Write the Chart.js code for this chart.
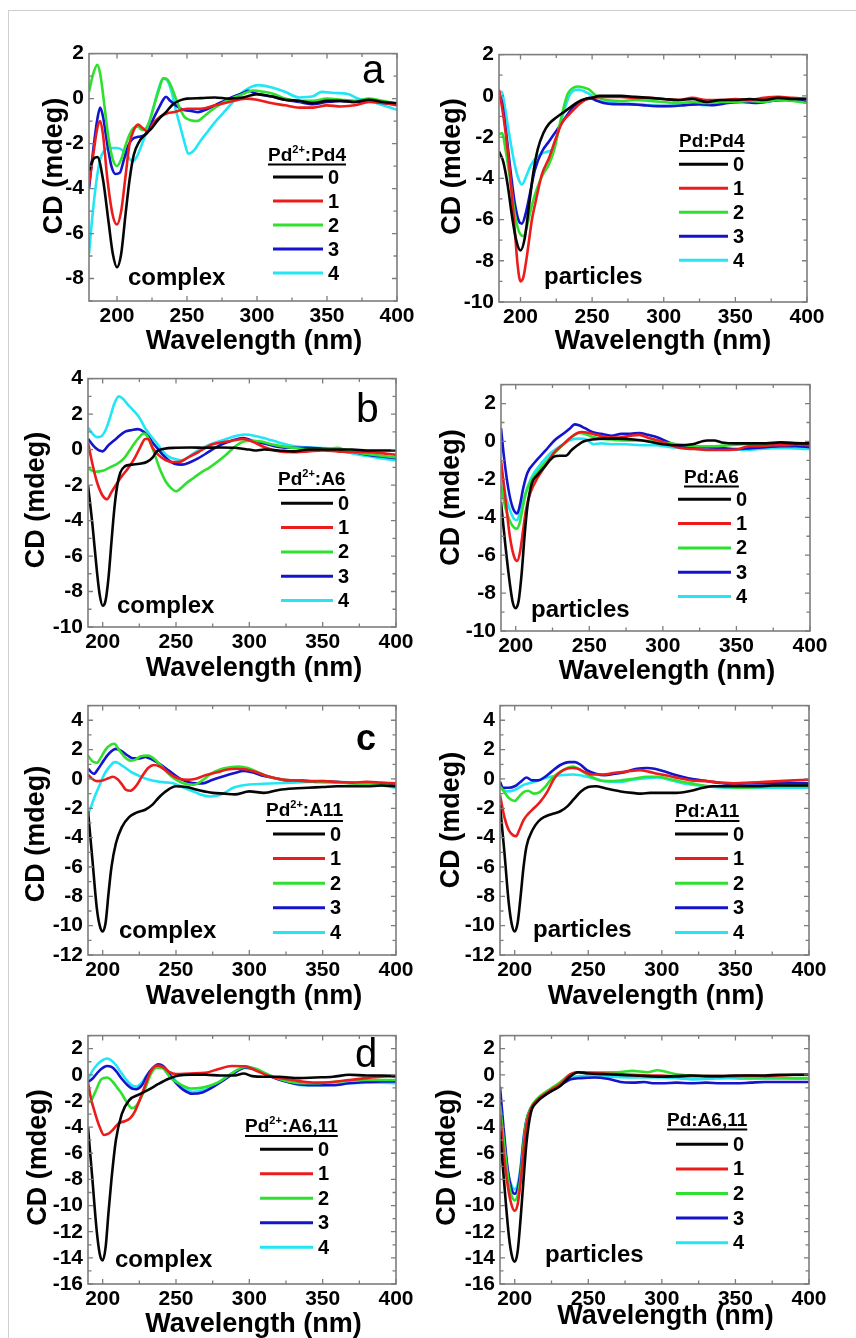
<!DOCTYPE html>
<html>
<head>
<meta charset="utf-8">
<title>CD spectra of Pd complexes and particles</title>
<script src="https://cdn.jsdelivr.net/npm/chart.js@4.4.1/dist/chart.umd.min.js"></script>
<style>
  html, body { margin: 0; padding: 0; background: #ffffff; }
  body { width: 856px; height: 1338px; position: relative; overflow: hidden; }
  .edge-top { position: absolute; left: 8px; top: 10px; width: 848px; height: 1px; background: #cfcfcf; }
  .edge-left { position: absolute; left: 8px; top: 10px; width: 1px; height: 1328px; background: #cfcfcf; }
  canvas { position: absolute; }
</style>
</head>
<body>
<div class="edge-top"></div>
<div class="edge-left"></div>
<script>
// ---------- series: [wavelength (nm), CD (mdeg)] ----------
// Panel a, Pd2+:Pd4 complex
const aComplex0 = [[180,-3.2],[183,-2.7],[186,-2.6],[190,-3.6],[194,-5.5],[197,-6.9],[200,-7.5],[203,-6.9],[206,-5.2],[209,-3.6],[212,-2.5],[216,-1.9],[220,-1.6],[225,-1.3],[230,-0.9],[235,-0.6],[240,-0.25],[245,-0.08],[250,0],[260,0.02],[270,0.05],[280,0],[290,0.05],[300,0.2],[310,0.1],[320,-0.05],[330,-0.1],[340,-0.2],[350,-0.1],[360,-0.1],[370,-0.15],[380,-0.05],[390,-0.15],[400,-0.2]];
const aComplex1 = [[180,-3.8],[183,-2.5],[186,-1.3],[188,-1.0],[190,-1.6],[193,-3.5],[197,-5.2],[200,-5.6],[203,-5.0],[206,-3.5],[209,-2.0],[212,-1.4],[215,-1.15],[218,-1.3],[222,-1.47],[226,-1.1],[231,-0.8],[236,-0.65],[241,-0.6],[250,-0.45],[260,-0.45],[270,-0.3],[280,-0.15],[292,0.0],[300,-0.05],[310,-0.2],[320,-0.3],[330,-0.4],[340,-0.4],[350,-0.3],[360,-0.35],[370,-0.3],[380,-0.15],[390,-0.2],[400,-0.3]];
const aComplex2 = [[180,0.3],[183,1.1],[186,1.5],[188,1.1],[191,-0.3],[194,-1.8],[197,-2.7],[200,-3.0],[203,-2.7],[206,-2.1],[209,-1.6],[212,-1.3],[215,-1.25],[218,-1.4],[221,-1.3],[224,-0.85],[227,-0.2],[230,0.4],[233,0.9],[236,0.85],[239,0.5],[242,0.0],[245,-0.45],[248,-0.8],[252,-0.95],[257,-1.0],[262,-0.8],[268,-0.5],[274,-0.25],[280,-0.05],[290,0.2],[297,0.36],[305,0.3],[312,0.2],[320,0.0],[330,-0.1],[340,-0.1],[350,0.0],[360,-0.05],[370,-0.1],[380,0.0],[390,-0.1],[400,-0.25]];
const aComplex3 = [[180,-4.0],[183,-2.3],[186,-0.9],[188,-0.4],[190,-0.8],[193,-2.0],[196,-3.0],[199,-3.35],[202,-3.3],[205,-2.7],[208,-2.1],[211,-1.8],[215,-1.7],[219,-1.65],[222,-1.5],[226,-0.9],[230,-0.4],[233,-0.05],[235,0.08],[238,-0.1],[242,-0.3],[247,-0.5],[253,-0.55],[258,-0.6],[265,-0.45],[270,-0.3],[280,0.0],[290,0.25],[294,0.35],[300,0.2],[310,0.1],[320,-0.05],[330,-0.15],[340,-0.25],[350,-0.15],[360,-0.1],[370,-0.15],[380,-0.1],[390,-0.2],[400,-0.25]];
const aComplex4 = [[180,-6.9],[182,-5.5],[185,-3.8],[188,-2.7],[191,-2.3],[195,-2.2],[200,-2.2],[204,-2.3],[208,-2.6],[211,-2.8],[214,-2.6],[218,-2.0],[222,-1.3],[226,-0.4],[230,0.5],[233,0.9],[236,0.8],[239,0.3],[242,-0.5],[245,-1.2],[248,-1.9],[251,-2.45],[255,-2.3],[260,-1.85],[265,-1.45],[270,-1.05],[275,-0.7],[280,-0.35],[285,0.0],[290,0.3],[295,0.5],[301,0.6],[310,0.5],[320,0.3],[330,0.05],[340,0.1],[346,0.3],[355,0.25],[365,0.2],[372,0.0],[380,-0.1],[390,-0.3],[400,-0.5]];

// Panel a, Pd:Pd4 particles
const aParticles0 = [[185,-2.7],[188,-3.2],[191,-4.3],[194,-5.8],[197,-7.0],[200,-7.5],[203,-6.9],[206,-5.3],[209,-3.7],[212,-2.6],[216,-1.8],[220,-1.35],[225,-1.05],[230,-0.8],[235,-0.55],[240,-0.3],[245,-0.15],[250,-0.1],[255,0.0],[260,0.0],[270,0.0],[280,-0.05],[290,-0.1],[300,-0.15],[310,-0.2],[320,-0.15],[330,-0.3],[340,-0.2],[350,-0.2],[360,-0.15],[370,-0.2],[380,-0.1],[390,-0.15],[400,-0.15]];
const aParticles1 = [[185,0.3],[187,-0.5],[190,-2.0],[193,-4.0],[196,-6.5],[198,-8.2],[200,-9.0],[202,-8.8],[204,-8.0],[206,-7.0],[208,-6.0],[211,-5.0],[215,-3.8],[220,-3.0],[225,-2.0],[229,-1.3],[234,-0.9],[238,-0.6],[242,-0.35],[245,-0.2],[250,-0.1],[260,-0.05],[270,-0.05],[280,-0.1],[290,-0.1],[300,-0.15],[310,-0.2],[320,-0.1],[330,-0.2],[340,-0.2],[350,-0.15],[360,-0.2],[370,-0.1],[380,-0.05],[390,-0.1],[400,-0.15]];
const aParticles2 = [[185,-1.9],[187,-1.8],[190,-2.8],[193,-4.2],[196,-5.7],[199,-6.6],[202,-6.8],[205,-6.2],[208,-5.3],[211,-4.6],[215,-3.9],[220,-3.3],[224,-2.5],[227,-1.5],[230,-0.6],[233,0.1],[236,0.35],[240,0.45],[244,0.4],[248,0.3],[252,0.05],[256,-0.15],[260,-0.2],[270,-0.25],[280,-0.2],[290,-0.25],[300,-0.3],[310,-0.35],[320,-0.3],[330,-0.35],[340,-0.3],[350,-0.3],[360,-0.25],[370,-0.3],[380,-0.2],[390,-0.25],[400,-0.35]];
const aParticles3 = [[185,0.15],[187,-0.3],[190,-1.8],[193,-3.6],[196,-5.2],[199,-6.1],[201,-6.2],[204,-5.6],[207,-4.6],[210,-3.6],[215,-2.7],[220,-2.2],[225,-1.7],[230,-1.2],[235,-0.7],[240,-0.4],[245,-0.2],[248,-0.1],[252,-0.2],[258,-0.35],[265,-0.4],[275,-0.4],[285,-0.45],[295,-0.5],[305,-0.5],[315,-0.45],[325,-0.4],[335,-0.45],[345,-0.35],[355,-0.3],[365,-0.35],[375,-0.25],[385,-0.2],[395,-0.25],[400,-0.3]];
const aParticles4 = [[185,0.15],[187,0.2],[189,-0.5],[192,-1.8],[195,-3.0],[198,-3.9],[201,-4.3],[204,-3.9],[207,-3.4],[211,-3.0],[215,-2.8],[219,-2.7],[222,-2.6],[225,-2.1],[228,-1.3],[231,-0.6],[234,0.0],[237,0.25],[241,0.3],[245,0.2],[249,0.05],[254,-0.25],[260,-0.3],[270,-0.4],[280,-0.4],[290,-0.45],[300,-0.5],[310,-0.45],[320,-0.4],[330,-0.45],[340,-0.35],[350,-0.3],[360,-0.3],[370,-0.3],[380,-0.2],[390,-0.2],[400,-0.3]];

// Panel b, Pd2+:A6 complex
const bComplex0 = [[190,-2.0],[193,-4.2],[196,-6.8],[198,-8.2],[200,-8.8],[202,-8.5],[204,-7.2],[206,-5.2],[208,-3.3],[210,-2.0],[212,-1.3],[215,-0.95],[220,-0.85],[225,-0.8],[230,-0.7],[234,-0.45],[237,-0.1],[242,0.05],[250,0.1],[260,0.12],[270,0.1],[280,0.12],[290,0.1],[300,0.0],[305,-0.05],[310,0.0],[320,-0.05],[330,-0.1],[340,0.0],[350,0.0],[360,0.0],[370,0.0],[380,-0.05],[390,-0.05],[400,-0.05]];
const bComplex1 = [[190,0.4],[193,-0.8],[196,-1.8],[200,-2.6],[203,-2.8],[206,-2.4],[209,-2.0],[213,-1.5],[217,-1.1],[222,-0.45],[226,0.2],[229,0.6],[231,0.6],[234,0.1],[238,-0.3],[242,-0.55],[247,-0.7],[252,-0.7],[258,-0.45],[265,-0.15],[275,0.3],[285,0.45],[296,0.6],[302,0.45],[310,0.15],[320,-0.1],[330,-0.15],[340,-0.1],[350,-0.05],[360,-0.1],[370,-0.15],[380,-0.15],[390,-0.2],[400,-0.3]];
const bComplex2 = [[190,-1.05],[195,-1.25],[200,-1.2],[205,-1.0],[210,-0.8],[215,-0.45],[220,0.15],[224,0.6],[228,0.9],[230,0.8],[233,0.3],[236,-0.4],[239,-1.1],[243,-1.8],[247,-2.2],[250,-2.35],[253,-2.2],[257,-1.9],[262,-1.6],[267,-1.3],[273,-1.0],[278,-0.7],[284,-0.3],[290,0.15],[296,0.45],[302,0.5],[308,0.45],[315,0.3],[325,0.15],[335,0.05],[345,0.0],[355,0.05],[360,0.1],[365,0.0],[372,-0.15],[380,-0.25],[390,-0.35],[400,-0.45]];
const bComplex3 = [[190,0.6],[195,0.1],[200,-0.1],[204,0.25],[209,0.6],[215,1.0],[220,1.1],[224,1.15],[228,1.0],[231,0.75],[234,0.4],[238,0.0],[241,-0.3],[245,-0.6],[249,-0.8],[254,-0.85],[260,-0.7],[265,-0.5],[270,-0.25],[280,0.25],[288,0.5],[296,0.65],[302,0.5],[310,0.35],[320,0.15],[330,0.1],[340,0.1],[350,0.05],[360,0.0],[368,-0.05],[375,-0.2],[385,-0.35],[392,-0.4],[400,-0.5]];
const bComplex4 = [[190,1.25],[193,0.9],[196,0.7],[199,0.75],[202,1.1],[205,1.8],[208,2.6],[211,3.0],[214,2.85],[217,2.55],[221,2.2],[225,1.8],[229,1.2],[233,0.75],[237,0.35],[241,-0.1],[245,-0.4],[250,-0.55],[254,-0.6],[258,-0.45],[263,-0.15],[268,0.1],[275,0.35],[283,0.55],[290,0.75],[297,0.85],[305,0.75],[312,0.6],[320,0.4],[330,0.2],[345,0.1],[358,0.05],[365,-0.1],[372,-0.25],[380,-0.35],[390,-0.5],[400,-0.6]];

// Panel b, Pd:A6 particles
const bParticles0 = [[190,-3.2],[193,-5.5],[196,-7.5],[198,-8.5],[200,-8.8],[202,-8.4],[204,-7.0],[206,-5.0],[208,-3.4],[211,-2.2],[215,-1.75],[220,-1.3],[226,-0.8],[230,-0.75],[234,-0.75],[238,-0.45],[242,-0.2],[246,0.0],[252,0.1],[260,0.15],[270,0.15],[280,0.1],[290,0.0],[300,-0.15],[310,-0.2],[320,-0.15],[330,0.05],[335,0.05],[340,-0.05],[350,-0.1],[360,-0.1],[370,-0.1],[380,-0.05],[390,-0.1],[400,-0.1]];
const bParticles1 = [[190,-1.0],[193,-3.0],[196,-5.0],[199,-6.1],[201,-6.3],[203,-5.8],[205,-4.7],[207,-3.6],[210,-2.7],[215,-1.9],[220,-1.3],[226,-0.6],[233,-0.1],[238,0.25],[242,0.45],[245,0.5],[250,0.45],[255,0.35],[260,0.25],[270,0.2],[278,0.3],[284,0.35],[290,0.2],[297,0.05],[304,-0.15],[312,-0.35],[322,-0.4],[332,-0.45],[342,-0.45],[352,-0.4],[358,-0.25],[365,-0.25],[375,-0.2],[385,-0.2],[392,-0.15],[400,-0.2]];
const bParticles2 = [[190,-2.3],[193,-3.5],[196,-4.2],[199,-4.55],[201,-4.6],[203,-4.2],[205,-3.4],[207,-2.7],[211,-2.0],[215,-1.6],[218,-1.3],[224,-0.8],[231,-0.25],[236,0.1],[240,0.35],[243,0.45],[247,0.4],[252,0.25],[258,0.15],[265,0.1],[275,0.05],[285,0.05],[295,0.0],[305,-0.1],[315,-0.2],[325,-0.25],[335,-0.25],[345,-0.2],[355,-0.15],[365,-0.1],[375,-0.1],[385,-0.05],[395,-0.1],[400,-0.1]];
const bParticles3 = [[190,0.7],[192,-0.8],[195,-2.5],[198,-3.5],[201,-3.8],[203,-3.3],[205,-2.5],[208,-1.65],[213,-1.1],[220,-0.5],[227,0.1],[233,0.45],[237,0.7],[240,0.9],[243,0.85],[247,0.7],[252,0.5],[258,0.4],[265,0.3],[272,0.4],[278,0.4],[284,0.45],[290,0.35],[297,0.2],[304,-0.05],[312,-0.25],[320,-0.3],[330,-0.3],[340,-0.35],[350,-0.4],[360,-0.35],[370,-0.3],[380,-0.25],[390,-0.25],[400,-0.3]];
const bParticles4 = [[190,-1.3],[193,-2.8],[196,-3.6],[199,-4.1],[201,-4.15],[203,-3.7],[206,-2.9],[209,-2.2],[213,-1.6],[218,-1.1],[224,-0.6],[231,-0.2],[238,0.1],[243,0.15],[248,0.1],[253,-0.15],[258,-0.1],[265,-0.15],[275,-0.15],[285,-0.2],[295,-0.2],[305,-0.3],[315,-0.35],[325,-0.4],[335,-0.4],[345,-0.4],[355,-0.45],[365,-0.4],[375,-0.35],[385,-0.35],[395,-0.4],[400,-0.4]];

// Panel c, Pd2+:A11 complex
const cComplex0 = [[190,-2.2],[193,-5.5],[196,-8.8],[198,-10.0],[200,-10.4],[202,-9.8],[204,-7.8],[206,-6.0],[209,-4.4],[213,-3.3],[218,-2.6],[223,-2.3],[229,-2.1],[234,-1.75],[238,-1.3],[243,-0.85],[250,-0.5],[257,-0.55],[265,-0.75],[275,-0.95],[283,-1.0],[290,-1.05],[300,-0.85],[310,-0.95],[320,-0.75],[330,-0.65],[340,-0.6],[350,-0.55],[360,-0.5],[370,-0.5],[380,-0.5],[390,-0.45],[400,-0.5]];
const cComplex1 = [[190,0.3],[193,0.0],[196,-0.15],[200,-0.1],[204,0.05],[207,0.15],[210,0.0],[213,-0.35],[216,-0.75],[219,-0.8],[223,-0.45],[227,0.2],[231,0.75],[235,0.95],[239,0.85],[244,0.5],[249,0.15],[253,0.0],[258,-0.05],[263,0.0],[270,0.25],[278,0.45],[285,0.65],[292,0.7],[298,0.65],[305,0.45],[312,0.2],[320,0.0],[330,-0.1],[340,-0.15],[350,-0.15],[360,-0.2],[370,-0.25],[380,-0.2],[390,-0.25],[400,-0.3]];
const cComplex2 = [[190,1.6],[193,1.2],[196,1.1],[199,1.5],[202,2.0],[206,2.35],[208,2.4],[211,2.0],[215,1.5],[219,1.25],[222,1.3],[226,1.55],[231,1.6],[234,1.45],[238,1.1],[242,0.65],[246,0.25],[250,-0.05],[255,-0.3],[262,-0.4],[268,-0.1],[273,0.3],[280,0.65],[287,0.8],[293,0.85],[299,0.75],[305,0.5],[312,0.2],[320,0.0],[330,-0.1],[340,-0.15],[350,-0.2],[360,-0.25],[370,-0.3],[380,-0.35],[390,-0.4],[400,-0.5]];
const cComplex3 = [[190,0.7],[194,0.35],[197,0.7],[201,1.3],[205,1.8],[209,2.05],[213,1.9],[217,1.6],[221,1.4],[225,1.4],[229,1.5],[232,1.4],[236,1.2],[240,0.95],[244,0.65],[248,0.35],[253,0.0],[258,-0.2],[263,-0.3],[268,-0.3],[275,-0.05],[283,0.2],[290,0.4],[296,0.55],[302,0.45],[310,0.2],[318,0.05],[326,-0.1],[335,-0.1],[345,-0.2],[355,-0.2],[365,-0.25],[375,-0.3],[385,-0.35],[392,-0.4],[400,-0.45]];
const cComplex4 = [[190,-2.4],[192,-1.9],[195,-1.1],[198,-0.4],[201,0.3],[204,0.75],[207,1.1],[209,1.15],[212,1.0],[215,0.8],[219,0.5],[224,0.25],[230,0.0],[239,-0.2],[248,-0.3],[253,-0.5],[258,-0.7],[263,-0.9],[268,-1.1],[273,-1.2],[278,-1.15],[283,-0.95],[289,-0.6],[295,-0.45],[300,-0.38],[310,-0.33],[325,-0.27],[340,-0.2],[350,-0.15],[360,-0.2],[370,-0.25],[380,-0.35],[390,-0.45],[400,-0.6]];

// Panel c, Pd:A11 particles
const cParticles0 = [[190,-1.8],[193,-5.0],[196,-8.5],[198,-9.9],[200,-10.4],[202,-9.8],[204,-8.0],[206,-6.0],[208,-4.6],[212,-3.5],[216,-2.9],[220,-2.6],[225,-2.4],[231,-2.2],[236,-1.85],[240,-1.4],[245,-0.85],[250,-0.55],[255,-0.5],[262,-0.65],[272,-0.85],[280,-0.95],[286,-1.0],[292,-0.95],[300,-0.95],[310,-0.95],[320,-0.8],[328,-0.6],[335,-0.5],[345,-0.5],[355,-0.5],[365,-0.5],[375,-0.45],[385,-0.45],[395,-0.45],[400,-0.45]];
const cParticles1 = [[190,-1.1],[193,-2.6],[196,-3.5],[199,-3.85],[201,-3.9],[203,-3.5],[206,-2.8],[209,-2.4],[213,-2.0],[217,-1.6],[222,-0.9],[227,0.05],[233,0.6],[239,0.75],[243,0.7],[247,0.5],[253,0.3],[260,0.3],[267,0.4],[276,0.5],[285,0.6],[291,0.5],[297,0.35],[305,0.2],[312,0.05],[320,-0.1],[330,-0.15],[340,-0.25],[350,-0.3],[360,-0.25],[370,-0.2],[380,-0.15],[390,-0.1],[400,-0.05]];
const cParticles2 = [[190,-0.5],[193,-0.9],[196,-1.3],[200,-1.5],[203,-1.2],[206,-0.9],[209,-0.8],[213,-1.0],[217,-0.9],[221,-0.5],[225,0.0],[231,0.5],[237,0.8],[240,0.85],[243,0.7],[247,0.45],[252,0.15],[258,-0.1],[264,-0.15],[272,-0.1],[280,0.0],[290,0.15],[297,0.15],[305,0.0],[312,-0.15],[320,-0.3],[332,-0.5],[345,-0.55],[356,-0.6],[368,-0.55],[380,-0.5],[390,-0.5],[400,-0.5]];
const cParticles3 = [[190,-0.2],[192,-0.6],[196,-0.6],[200,-0.5],[204,-0.2],[208,0.1],[212,-0.1],[216,-0.1],[220,0.1],[225,0.5],[231,0.95],[237,1.15],[241,1.15],[245,0.95],[249,0.6],[255,0.35],[261,0.25],[268,0.35],[276,0.5],[283,0.7],[290,0.75],[295,0.7],[302,0.5],[310,0.25],[318,0.05],[328,-0.1],[338,-0.25],[348,-0.35],[358,-0.3],[370,-0.3],[380,-0.3],[390,-0.3],[400,-0.3]];
const cParticles4 = [[190,-0.5],[195,-0.85],[200,-0.75],[206,-0.4],[213,-0.2],[222,0.1],[231,0.25],[240,0.3],[249,0.15],[255,0.0],[261,-0.15],[272,-0.2],[280,-0.05],[290,0.05],[297,0.1],[305,-0.05],[315,-0.3],[325,-0.45],[335,-0.55],[345,-0.6],[355,-0.6],[365,-0.6],[375,-0.6],[385,-0.6],[400,-0.6]];

// Panel d, Pd2+:A6,11 complex
const dComplex0 = [[190,-4.0],[193,-8.0],[196,-12.0],[198,-13.7],[200,-14.2],[202,-13.2],[204,-10.5],[206,-8.0],[209,-5.0],[213,-3.0],[218,-1.95],[225,-1.5],[232,-1.1],[238,-0.7],[245,-0.3],[252,-0.05],[260,0.0],[270,0.0],[280,-0.05],[290,-0.05],[296,0.1],[302,-0.1],[310,-0.15],[320,-0.15],[334,-0.25],[345,-0.2],[357,-0.15],[368,0.0],[380,-0.05],[390,-0.05],[400,-0.1]];
const dComplex1 = [[190,-0.6],[192,-1.8],[195,-3.0],[198,-4.0],[201,-4.6],[204,-4.5],[207,-4.2],[211,-3.7],[215,-3.55],[219,-3.3],[222,-2.8],[225,-2.0],[229,-0.8],[233,0.3],[237,0.7],[241,0.6],[245,0.25],[250,0.05],[260,0.1],[270,0.15],[279,0.45],[288,0.68],[297,0.65],[306,0.25],[315,-0.15],[324,-0.3],[335,-0.5],[345,-0.6],[357,-0.55],[368,-0.4],[380,-0.25],[390,-0.15],[400,-0.1]];
const dComplex2 = [[190,-2.1],[192,-2.0],[195,-1.3],[199,-0.35],[203,-0.2],[207,-0.55],[210,-1.0],[213,-1.45],[217,-2.2],[220,-2.55],[223,-2.35],[226,-1.8],[229,-1.05],[233,0.1],[237,0.55],[241,0.5],[244,0.1],[247,-0.3],[251,-0.6],[255,-0.85],[260,-1.05],[267,-1.0],[274,-0.8],[280,-0.5],[286,-0.05],[292,0.4],[297,0.6],[304,0.48],[313,0.0],[320,-0.3],[328,-0.55],[336,-0.65],[346,-0.65],[357,-0.55],[368,-0.45],[380,-0.4],[390,-0.4],[400,-0.4]];
const dComplex3 = [[190,-0.55],[193,-0.3],[196,0.1],[199,0.45],[203,0.68],[206,0.6],[209,0.3],[213,-0.3],[217,-0.8],[220,-1.05],[223,-1.1],[227,-0.75],[230,-0.1],[234,0.5],[238,0.8],[241,0.7],[244,0.3],[248,-0.35],[251,-0.75],[255,-1.15],[261,-1.45],[268,-1.35],[275,-0.95],[284,-0.3],[292,0.3],[297,0.55],[304,0.4],[313,-0.05],[320,-0.35],[328,-0.6],[336,-0.75],[346,-0.8],[357,-0.8],[368,-0.65],[380,-0.55],[390,-0.5],[400,-0.5]];
const dComplex4 = [[190,-0.35],[193,0.3],[196,0.75],[199,1.05],[203,1.25],[206,1.1],[209,0.75],[213,0.1],[217,-0.5],[220,-0.8],[223,-0.9],[227,-0.55],[230,-0.05],[234,0.45],[238,0.7],[242,0.6],[245,0.2],[249,-0.35],[252,-0.7],[256,-1.05],[261,-1.3],[268,-1.2],[275,-0.85],[284,-0.2],[292,0.35],[297,0.65],[304,0.45],[313,0.0],[320,-0.3],[328,-0.6],[336,-0.8],[346,-0.8],[357,-0.75],[368,-0.65],[380,-0.6],[390,-0.6],[400,-0.65]];

// Panel d, Pd:A6,11 particles
const dParticles0 = [[190,-4.3],[193,-8.5],[196,-12.3],[198,-13.8],[200,-14.3],[202,-13.5],[204,-11.0],[206,-8.0],[208,-5.2],[211,-2.9],[215,-2.1],[222,-1.45],[231,-0.85],[238,-0.1],[243,0.2],[250,0.1],[260,0.05],[270,0.0],[280,-0.05],[290,-0.1],[300,-0.15],[310,-0.1],[320,-0.05],[330,-0.1],[340,-0.1],[350,-0.05],[360,-0.05],[370,-0.05],[380,0.0],[390,0.0],[400,0.0]];
const dParticles1 = [[190,-3.0],[193,-6.5],[196,-9.0],[198,-10.0],[200,-10.4],[202,-9.9],[204,-8.2],[206,-5.8],[208,-3.8],[211,-2.6],[215,-1.95],[222,-1.35],[231,-0.7],[238,0.05],[243,0.2],[250,0.15],[260,0.1],[270,0.05],[280,0.0],[290,-0.05],[300,-0.05],[310,-0.15],[320,-0.1],[330,-0.1],[340,-0.1],[350,-0.1],[360,-0.05],[370,-0.1],[380,-0.05],[390,0.0],[400,0.0]];
const dParticles2 = [[190,-2.3],[193,-5.5],[196,-8.3],[198,-9.3],[200,-9.6],[202,-9.2],[204,-7.8],[206,-5.3],[208,-3.5],[211,-2.5],[215,-1.85],[222,-1.25],[231,-0.55],[238,0.05],[243,0.2],[250,0.2],[260,0.2],[270,0.2],[280,0.3],[285,0.25],[290,0.2],[297,0.35],[302,0.25],[310,0.05],[320,-0.05],[330,-0.1],[340,-0.15],[350,-0.15],[360,-0.2],[370,-0.2],[380,-0.2],[390,-0.25],[400,-0.25]];
const dParticles3 = [[190,-0.9],[192,-3.5],[195,-7.0],[198,-8.8],[200,-9.1],[202,-8.7],[204,-7.3],[206,-5.0],[208,-3.5],[211,-2.55],[215,-1.95],[222,-1.45],[231,-0.8],[238,-0.35],[245,-0.25],[254,-0.2],[263,-0.3],[272,-0.55],[280,-0.6],[288,-0.55],[295,-0.65],[300,-0.65],[310,-0.6],[320,-0.65],[330,-0.6],[340,-0.65],[350,-0.65],[360,-0.6],[370,-0.55],[380,-0.55],[390,-0.55],[400,-0.55]];
const dParticles4 = [[190,-2.0],[193,-5.5],[196,-7.8],[198,-8.5],[200,-8.75],[202,-8.4],[204,-7.0],[206,-4.8],[208,-3.4],[211,-2.5],[215,-1.95],[222,-1.3],[231,-0.75],[238,-0.25],[245,-0.1],[254,-0.1],[265,-0.15],[277,-0.2],[290,-0.2],[300,-0.2],[310,-0.25],[322,-0.35],[333,-0.3],[345,-0.25],[355,-0.3],[367,-0.3],[380,-0.3],[390,-0.3],[400,-0.3]];

// ---------- ticks and labels ----------
const WAVE_TICKS = [200, 250, 300, 350, 400];
const CD_TICKS_A_COMPLEX = [-8, -6, -4, -2, 0, 2];
const CD_TICKS_A_PARTICLES = [-10, -8, -6, -4, -2, 0, 2];
const CD_TICKS_B_COMPLEX = [-10, -8, -6, -4, -2, 0, 2, 4];
const CD_TICKS_B_PARTICLES = [-10, -8, -6, -4, -2, 0, 2];
const CD_TICKS_C = [-12, -10, -8, -6, -4, -2, 0, 2, 4];
const CD_TICKS_D = [-16, -14, -12, -10, -8, -6, -4, -2, 0, 2];

const RATIO_LABELS = ['0', '1', '2', '3', '4'];
const LEGEND_TITLES = ['Pd<sup>2+</sup>:Pd4', 'Pd:Pd4', 'Pd<sup>2+</sup>:A6', 'Pd:A6', 'Pd<sup>2+</sup>:A11', 'Pd:A11', 'Pd<sup>2+</sup>:A6,11', 'Pd:A6,11'];
const SAMPLE_NOTES = ['complex', 'particles'];
const PANEL_LETTERS = ['a', 'b', 'c', 'd'];
const X_TITLE = 'Wavelength (nm)';
const Y_TITLE = 'CD (mdeg)';

// ---------- styling ----------
const SERIES_COLORS = ['#050505', '#ec1c1c', '#2fe02f', '#1414cc', '#22e6f4'];
const FRAME_COLOR = '#7d7d7d';
const FONT = "'Liberation Sans', Arial, Helvetica, sans-serif";
Chart.defaults.font.family = FONT;

const PAD_L = 85, PAD_T = 15, PAD_R = 40, PAD_B = 55;

// page-coordinate layout of each panel
const panels = [
  { series: [aComplex0, aComplex1, aComplex2, aComplex3, aComplex4], xRange: [180, 400], yRange: [-9, 2], yTicks: CD_TICKS_A_COMPLEX,
    title: LEGEND_TITLES[0], note: SAMPLE_NOTES[0], letter: PANEL_LETTERS[0],
    plot: { l: 89, t: 51, r: 397, b: 301 }, yTitle: { x: 43, y: 166 }, xTitle: { x: 254, y: 349 },
    legend: { titleX: 268, titleY: 161, underY: 164.5, lineX0: 273, lineX1: 323, numX: 328, rowY: 177, rowGap: 24 },
    notePos: { x: 128, y: 285 }, letterPos: { x: 362, y: 83, font: 'normal 40px' } },
  { series: [aParticles0, aParticles1, aParticles2, aParticles3, aParticles4], xRange: [185, 400], yRange: [-10, 2], yTicks: CD_TICKS_A_PARTICLES,
    title: LEGEND_TITLES[1], note: SAMPLE_NOTES[1],
    plot: { l: 499, t: 52, r: 807, b: 302 }, yTitle: { x: 441, y: 166.5 }, xTitle: { x: 663, y: 349 },
    legend: { titleX: 679, titleY: 147, underY: 151, lineX0: 679, lineX1: 728, numX: 733, rowY: 164.3, rowGap: 24 },
    notePos: { x: 544, y: 284 } },
  { series: [bComplex0, bComplex1, bComplex2, bComplex3, bComplex4], xRange: [190, 400], yRange: [-10, 4], yTicks: CD_TICKS_B_COMPLEX,
    title: LEGEND_TITLES[2], note: SAMPLE_NOTES[0], letter: PANEL_LETTERS[1],
    plot: { l: 88, t: 376, r: 396, b: 627 }, yTitle: { x: 25, y: 500 }, xTitle: { x: 254, y: 676 },
    legend: { titleX: 278, titleY: 485, underY: 490, lineX0: 281, lineX1: 333, numX: 338, rowY: 503.3, rowGap: 24.3 },
    notePos: { x: 117, y: 613 }, letterPos: { x: 356, y: 422, font: 'normal 41px' } },
  { series: [bParticles0, bParticles1, bParticles2, bParticles3, bParticles4], xRange: [190, 400], yRange: [-10, 3], yTicks: CD_TICKS_B_PARTICLES,
    title: LEGEND_TITLES[3], note: SAMPLE_NOTES[1],
    plot: { l: 501, t: 382, r: 810, b: 631 }, yTitle: { x: 440, y: 497.5 }, xTitle: { x: 667, y: 679 },
    legend: { titleX: 684, titleY: 483, underY: 486.5, lineX0: 678, lineX1: 731, numX: 736, rowY: 499.3, rowGap: 24.3 },
    notePos: { x: 531, y: 617 } },
  { series: [cComplex0, cComplex1, cComplex2, cComplex3, cComplex4], xRange: [190, 400], yRange: [-12, 5], yTicks: CD_TICKS_C,
    title: LEGEND_TITLES[4], note: SAMPLE_NOTES[0], letter: PANEL_LETTERS[2],
    plot: { l: 88, t: 703, r: 396, b: 955 }, yTitle: { x: 25, y: 834 }, xTitle: { x: 254, y: 1004 },
    legend: { titleX: 266, titleY: 816, underY: 821, lineX0: 273, lineX1: 325, numX: 330, rowY: 834, rowGap: 24.6 },
    notePos: { x: 119, y: 938 }, letterPos: { x: 356, y: 750, font: 'bold 36px' } },
  { series: [cParticles0, cParticles1, cParticles2, cParticles3, cParticles4], xRange: [190, 400], yRange: [-12, 5], yTicks: CD_TICKS_C,
    title: LEGEND_TITLES[5], note: SAMPLE_NOTES[1],
    plot: { l: 500, t: 703, r: 809, b: 955 }, yTitle: { x: 440, y: 820 }, xTitle: { x: 656, y: 1004 },
    legend: { titleX: 675, titleY: 817, underY: 821, lineX0: 675, lineX1: 728, numX: 733, rowY: 834, rowGap: 24.6 },
    notePos: { x: 533, y: 937 } },
  { series: [dComplex0, dComplex1, dComplex2, dComplex3, dComplex4], xRange: [190, 400], yRange: [-16, 3], yTicks: CD_TICKS_D,
    title: LEGEND_TITLES[6], note: SAMPLE_NOTES[0], letter: PANEL_LETTERS[3],
    plot: { l: 88, t: 1033, r: 396, b: 1284 }, yTitle: { x: 27, y: 1157.5 }, xTitle: { x: 253.5, y: 1332 },
    legend: { titleX: 245, titleY: 1132, underY: 1136, lineX0: 260, lineX1: 313, numX: 318, rowY: 1149.3, rowGap: 24.5 },
    notePos: { x: 115, y: 1267 }, letterPos: { x: 355, y: 1067, font: 'normal 40px' } },
  { series: [dParticles0, dParticles1, dParticles2, dParticles3, dParticles4], xRange: [190, 400], yRange: [-16, 3], yTicks: CD_TICKS_D,
    title: LEGEND_TITLES[7], note: SAMPLE_NOTES[1],
    plot: { l: 500, t: 1033, r: 809, b: 1284 }, yTitle: { x: 436, y: 1157.5 }, xTitle: { x: 665.5, y: 1324 },
    legend: { titleX: 667, titleY: 1126, underY: 1129.5, lineX0: 676, lineX1: 728, numX: 733, rowY: 1144.3, rowGap: 24.6 },
    notePos: { x: 545, y: 1262 } }
];

// draws the title with an optional superscript segment, returns its width
function drawRichTitle(ctx, str, x, baseline, size) {
  const parts = str.split(/<sup>|<\/sup>/);
  let cx = x;
  parts.forEach((seg, i) => {
    if (!seg) return;
    const sup = i % 2 === 1;
    ctx.font = `bold ${sup ? Math.round(size * 0.6) : size}px ${FONT}`;
    ctx.fillText(seg, cx, sup ? baseline - size * 0.42 : baseline);
    cx += ctx.measureText(seg).width;
  });
  return cx - x;
}

// frame, inward ticks on all sides, legend and annotations
function makeDecor(p, ox, oy) {
  return {
    id: 'cdDecor',
    afterDatasetsDraw(chart) {
      const { ctx, chartArea: a, scales } = chart;
      const xs = scales.x, ys = scales.y;
      ctx.save();
      ctx.strokeStyle = FRAME_COLOR;
      ctx.lineWidth = 1.6;
      ctx.strokeRect(a.left, a.top, a.right - a.left, a.bottom - a.top);

      ctx.lineWidth = 1.3;
      ctx.beginPath();
      for (let v = Math.ceil(p.xRange[0] / 25) * 25; v <= p.xRange[1]; v += 25) {
        const px = xs.getPixelForValue(v);
        const len = v % 50 === 0 ? 5 : 3.5;
        ctx.moveTo(px, a.bottom); ctx.lineTo(px, a.bottom - len);
        ctx.moveTo(px, a.top); ctx.lineTo(px, a.top + len);
      }
      for (let v = Math.ceil(p.yRange[0]); v <= p.yRange[1]; v += 1) {
        const py = ys.getPixelForValue(v);
        const len = p.yTicks.includes(v) ? 5 : 3.5;
        ctx.moveTo(a.left, py); ctx.lineTo(a.left + len, py);
        ctx.moveTo(a.right, py); ctx.lineTo(a.right - len, py);
      }
      ctx.stroke();

      ctx.fillStyle = '#000';
      ctx.textBaseline = 'alphabetic';

      // axis titles
      ctx.font = `bold 27px ${FONT}`;
      ctx.textAlign = 'center';
      ctx.fillText(X_TITLE, p.xTitle.x - ox, p.xTitle.y - oy);
      ctx.save();
      ctx.translate(p.yTitle.x - ox + 27 * 0.716, p.yTitle.y - oy);
      ctx.rotate(-Math.PI / 2);
      ctx.fillText(Y_TITLE, 0, 0);
      ctx.restore();

      // legend
      const L = p.legend;
      ctx.textAlign = 'left';
      const w = drawRichTitle(ctx, p.title, L.titleX - ox, L.titleY - oy, 19);
      ctx.strokeStyle = '#000';
      ctx.lineWidth = 2;
      ctx.beginPath();
      ctx.moveTo(L.titleX - ox, L.underY - oy);
      ctx.lineTo(L.titleX - ox + w, L.underY - oy);
      ctx.stroke();
      chart.data.datasets.forEach((ds, i) => {
        const y = L.rowY + i * L.rowGap - oy;
        ctx.strokeStyle = ds.borderColor;
        ctx.lineWidth = 3;
        ctx.beginPath();
        ctx.moveTo(L.lineX0 - ox, y);
        ctx.lineTo(L.lineX1 - ox, y);
        ctx.stroke();
        ctx.font = `bold 20px ${FONT}`;
        ctx.textBaseline = 'middle';
        ctx.fillText(ds.label, L.numX - ox, y + 1);
        ctx.textBaseline = 'alphabetic';
      });

      // sample note and panel letter
      ctx.font = `bold 24px ${FONT}`;
      ctx.fillText(p.note, p.notePos.x - ox, p.notePos.y - oy);
      if (p.letter) {
        ctx.font = `${p.letterPos.font} ${FONT}`;
        ctx.fillText(p.letter, p.letterPos.x - ox, p.letterPos.y - oy);
      }
      ctx.restore();
    }
  };
}

function buildPanel(p) {
  const W = (p.plot.r - p.plot.l) + PAD_L + PAD_R;
  const H = (p.plot.b - p.plot.t) + PAD_T + PAD_B;
  const left = p.plot.l - PAD_L, top = p.plot.t - PAD_T;
  const cv = document.createElement('canvas');
  cv.width = W; cv.height = H;
  cv.style.left = left + 'px'; cv.style.top = top + 'px';
  cv.style.width = W + 'px'; cv.style.height = H + 'px';
  document.body.appendChild(cv);

  new Chart(cv.getContext('2d'), {
    type: 'line',
    data: {
      datasets: p.series.map((s, i) => ({
        label: RATIO_LABELS[i],
        data: s.map(([x, y]) => ({ x, y })),
        borderColor: SERIES_COLORS[i],
        borderWidth: 2.6,
        pointRadius: 0,
        fill: false,
        cubicInterpolationMode: 'monotone',
        borderJoinStyle: 'round'
      }))
    },
    options: {
      responsive: false,
      animation: false,
      events: [],
      devicePixelRatio: 1,
      layout: { padding: { left: 0, top: PAD_T, right: PAD_R, bottom: 0 } },
      scales: {
        x: {
          type: 'linear', min: p.xRange[0], max: p.xRange[1],
          afterBuildTicks: (s) => { s.ticks = WAVE_TICKS.map(v => ({ value: v })); },
          afterFit: (s) => { s.height = PAD_B; },
          grid: { display: false, drawTicks: false },
          border: { display: false },
          ticks: { padding: 3, color: '#000', maxRotation: 0, autoSkip: false, font: { size: 21, weight: 'bold' } }
        },
        y: {
          type: 'linear', min: p.yRange[0], max: p.yRange[1],
          afterBuildTicks: (s) => { s.ticks = p.yTicks.map(v => ({ value: v })); },
          afterFit: (s) => { s.width = PAD_L; },
          grid: { display: false, drawTicks: false },
          border: { display: false },
          ticks: { padding: 5, color: '#000', autoSkip: false, font: { size: 21, weight: 'bold' } }
        }
      },
      plugins: { legend: { display: false }, tooltip: { enabled: false } }
    },
    plugins: [makeDecor(p, left, top)]
  });
}

panels.forEach(buildPanel);
</script>
</body>
</html>
